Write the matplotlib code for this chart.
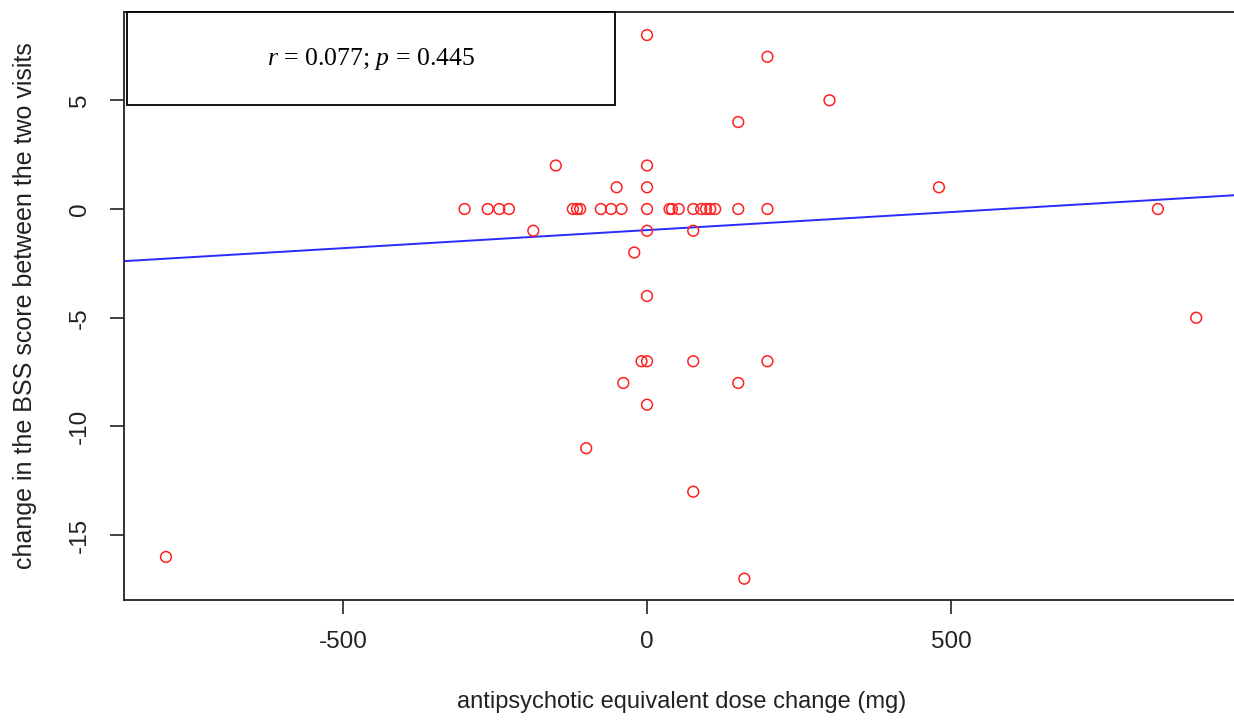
import matplotlib

matplotlib.use("Agg")
import matplotlib.pyplot as plt
from matplotlib.patches import Rectangle

plt.rcParams["font.family"] = ["Liberation Sans", "DejaVu Sans"]
plt.rcParams["axes.unicode_minus"] = False
plt.rcParams["mathtext.fontset"] = "custom"
plt.rcParams["mathtext.rm"] = "Liberation Serif"
plt.rcParams["mathtext.it"] = "Liberation Serif:italic"

# Изменение дозы (мг) и изменение BSS
DOSE_CHANGE = [
    -300, -262, -243, -227, -122, -115, -110, -76, -59, -42, 0, 37, 41, 52,
    76, 89, 97, 104, 112, 150, 198, 840,
    0, 198, 300, 150, -150, 0, -50, 0, 480, -187, 0, 76, -21, 0, 903,
    -9, 0, 76, 198, -39, 150, 0, -100, 76, -791, 160,
]
BSS_CHANGE = [
    0, 0, 0, 0, 0, 0, 0, 0, 0, 0, 0, 0, 0, 0,
    0, 0, 0, 0, 0, 0, 0, 0,
    8, 7, 5, 4, 2, 2, 1, 1, 1, -1, -1, -1, -2, -4, -5,
    -7, -7, -7, -7, -8, -8, -9, -11, -13, -16, -17,
]

# Линия регрессии (оценка по картинке)
FIT_INTERCEPT = -0.97
FIT_SLOPE = 0.00166

X_TICKS = [-500, 0, 500]
Y_TICKS = [-15, -10, -5, 0, 5]
STATS_TEXT = r"$\it{r}$ = 0.077; $\it{p}$ = 0.445"

fig = plt.figure(figsize=(12.34, 7.2), dpi=100)
W, H = 1234, 720
left, right, top, bottom = 124, 1240, 12, 600
ax = fig.add_axes([left / W, 1 - bottom / H, (right - left) / W, (bottom - top) / H])

ax.scatter(DOSE_CHANGE, BSS_CHANGE, s=60, facecolors="none", edgecolors="#ff2020",
           linewidths=1.1, zorder=3)
ax.axline((0, FIT_INTERCEPT), slope=FIT_SLOPE, color="#2a2aff", linewidth=1.4, zorder=2)

ax.set_xlim(-860, 975)
ax.set_ylim(-17.98, 9.06)
ax.set_xticks(X_TICKS)
ax.set_yticks(Y_TICKS)
ax.set_yticklabels([str(v) for v in Y_TICKS], rotation=90, va="center")

for s in ax.spines.values():
    s.set_linewidth(1.3)
    s.set_color("#222222")
ax.tick_params(direction="out", length=10, width=1.2, colors="#222222", labelsize=17.5)
ax.tick_params(axis="x", pad=12)
ax.tick_params(axis="y", pad=14)

ax.set_xlabel("antipsychotic equivalent dose change (mg)", fontsize=17, labelpad=28,
              color="#222222")
ax.set_ylabel("change in the BSS score between the two visits", fontsize=18,
              labelpad=23, color="#222222")

# Рамка с r и p
box = Rectangle((127 / W, 1 - 105 / H), (615 - 127) / W, (105 - 12) / H,
                transform=fig.transFigure, facecolor="white", edgecolor="black",
                linewidth=1.3, zorder=5)
fig.patches.append(box)
fig.text(371 / W, 1 - 59 / H, STATS_TEXT, ha="center", va="center", fontsize=18.5,
         family="Liberation Serif", zorder=6)

fig.savefig("out.png", dpi=100)
